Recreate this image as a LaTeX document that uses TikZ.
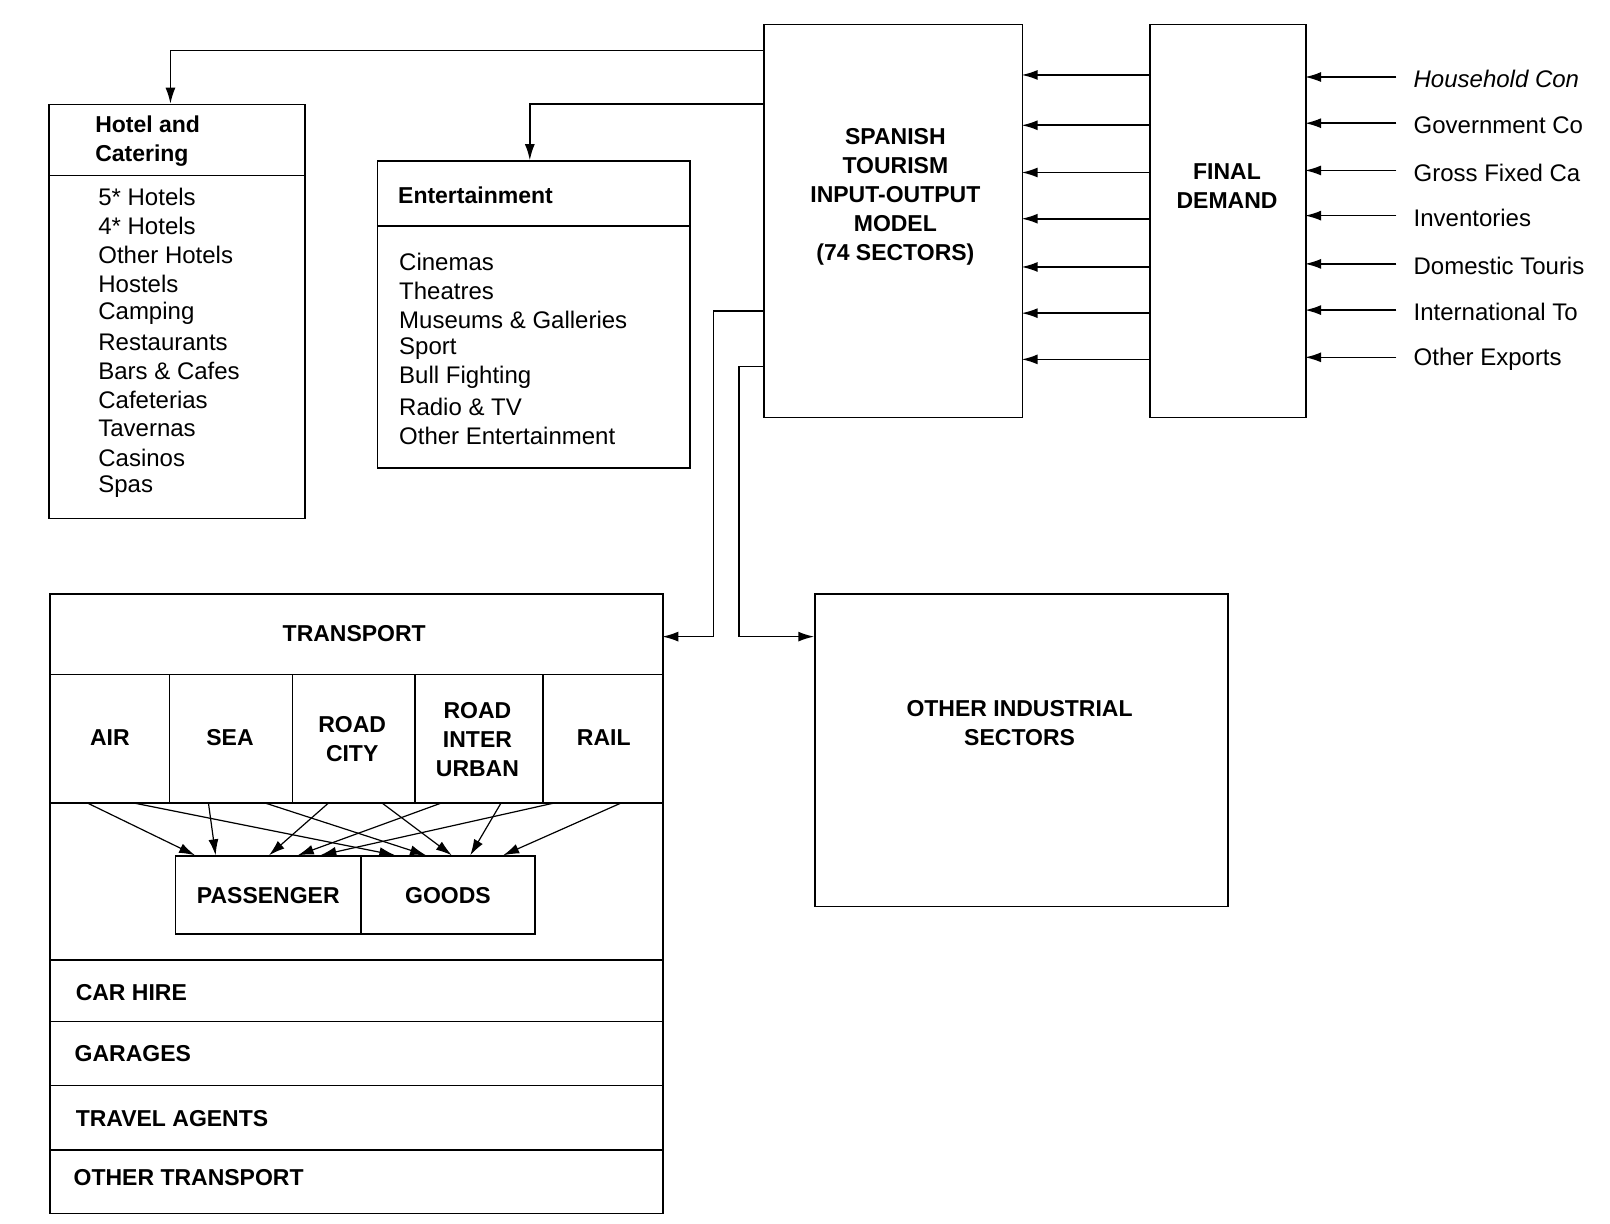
\documentclass[tikz,border=0pt]{standalone}
\usepackage{fontspec}
\setmainfont{Liberation Sans}
\usetikzlibrary{arrows.meta}
\tikzset{
	box/.style    = {draw, thick, rectangle, anchor=north west, inner sep=0pt},
	lbl/.style    = {font=\fontsize{12}{14}\selectfont, inner sep=0pt},
	hd/.style     = {font=\fontsize{11.5}{14.5}\selectfont\bfseries, inner sep=0pt, align=center},
	item/.style   = {lbl, anchor=west},
	feed/.style   = {thick, -{Latex[length=8pt,width=5pt]}}
}
\newcommand{\boxat}[5]{\node[box, minimum width=#4*0.5135pt, minimum height=#5*0.5135pt] (#1) at (#2,#3) {};}

\begin{document}
\begin{tikzpicture}[x=0.5135pt, y=-0.5135pt, thick]
	\useasboundingbox (0,0) rectangle (1568,1192);
	% main blocks
	\boxat{model}{743}{23}{252}{383}
	\boxat{fd}{1119}{23}{152}{383}
	\boxat{hotel}{47}{101}{249}{403}
	\boxat{ent}{367}{156}{304}{299}
	\boxat{trans}{48}{578}{597}{603}
	\boxat{ind}{793}{578}{402}{304}
	\node[hd] at (872,192) {SPANISH\\TOURISM\\INPUT-OUTPUT\\MODEL\\(74 SECTORS)};
	\node[hd] at (1195,181) {FINAL\\DEMAND};
	\node[hd] at (993,704) {OTHER INDUSTRIAL\\SECTORS};

	% final demand inputs
	\foreach \y/\t [count=\i] in {77/{\itshape Household Con},122/Government Co,168/Gross Fixed Ca,212/Inventories,259/Domestic Touris,304/International To,350/Other Exports}{
		\node[item] (in\i) at (1376,\y) {\t};
		\coordinate (is\i) at (1360,\y-2);
		\coordinate (fdi\i) at (1271,\y-2);
		\draw[feed] (is\i) -- (fdi\i);
	}
	\foreach \y [count=\i] in {73,122,168,213,260,305,350}{
		\coordinate (fo\i) at (1119,\y);
		\coordinate (mi\i) at (995,\y);
		\draw[feed] (fo\i) -- (mi\i);
	}

	% hotel and catering
	\draw (47,171) -- (296,171);
	\node[hd, anchor=west, align=left] at (92,137) {Hotel and\\Catering};
	\foreach \t [count=\i from 0] in {5* Hotels,4* Hotels,Other Hotels,Hostels,Camping,Restaurants,Bars \& Cafes,Cafeterias,Tavernas,Casinos,Spas}
		\node[item] at (95,192+\i*28.2) {\t};

	% entertainment
	\draw (367,220) -- (671,220);
	\node[hd, anchor=west] at (387,190) {Entertainment};
	\foreach \t [count=\i from 0] in {Cinemas,Theatres,Museums \& Galleries,Sport,Bull Fighting,Radio \& TV,Other Entertainment}
		\node[item] at (388,255+\i*28.2) {\t};

	% links out of the model
	\coordinate (m1) at (743,49);
	\coordinate (m2) at (743,101);
	\coordinate (m3) at (743,303);
	\coordinate (m4) at (743,357);
	\coordinate (h1) at (166,101);
	\coordinate (e1) at (516,156);
	\coordinate (t1) at (645,620);
	\coordinate (o1) at (793,620);
	\draw[feed] (m1) -| (h1);
	\draw[feed] (m2) -| (e1);
	\draw[feed] (m3) -| (695,620) -- (t1);
	\draw[feed] (m4) -| (720,620) -- (o1);

	% transport block
	\draw (48,657) -- (645,657) (48,782) -- (645,782);
	\foreach \x in {165,285,404,529} \draw (\x,657) -- (\x,782);
	\node[hd] at (345,617) {TRANSPORT};
	\node[hd] (air) at (107,718) {AIR};
	\node[hd] (sea) at (224,718) {SEA};
	\node[hd] (city) at (343,720) {ROAD\\CITY};
	\node[hd] (inter) at (465,720) {ROAD\\INTER\\URBAN};
	\node[hd] (rail) at (588,718) {RAIL};
	\boxat{pass}{170}{833}{181}{76}
	\boxat{goods}{351}{833}{169}{76}
	\node[hd] at (pass) {PASSENGER};
	\node[hd] at (goods) {GOODS};
	\foreach \a/\b in {85/190,203/210,320/262,430/290,540/312,130/385,258/415,372/440,488/458,605/490}
		\draw[feed, semithick] (\a,782) -- (\b,833);
	\foreach \y in {935,995,1057,1120} \draw (48,\y) -- (645,\y);
	\node[hd, anchor=west] at (73,967) {CAR HIRE};
	\node[hd, anchor=west] at (72,1026) {GARAGES};
	\node[hd, anchor=west] at (73,1089) {TRAVEL AGENTS};
	\node[hd, anchor=west] at (71,1147) {OTHER TRANSPORT};
\end{tikzpicture}
\end{document}
